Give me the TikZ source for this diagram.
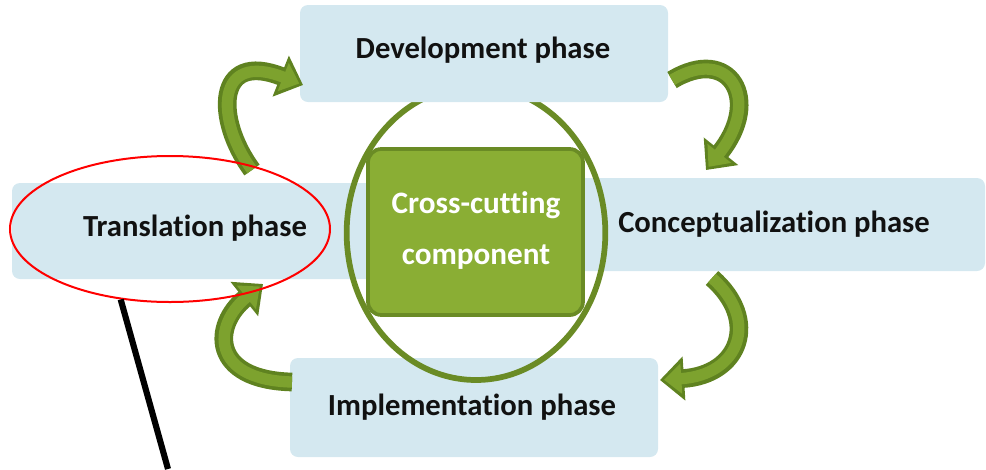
\documentclass[tikz,border=0pt]{standalone}
\usepackage{fontspec}
\setmainfont[Ligatures={NoCommon}]{Carlito}
\usetikzlibrary{arrows.meta,shapes.geometric}
\definecolor{boxblue}{HTML}{D4E8F0}
\definecolor{gdark}{HTML}{5F8220}
\definecolor{gmid}{HTML}{7DA22E}
\definecolor{gbox}{HTML}{8AAE34}
\definecolor{gboxdark}{HTML}{6A8B25}
\definecolor{txt}{HTML}{111111}
\begin{document}
\begin{tikzpicture}[x=0.75pt,y=-0.75pt,
  phasebox/.style={fill=boxblue, rounded corners=6pt, inner sep=0pt, draw=none},
  phasetext/.style={font=\bfseries\fontsize{23}{27}\selectfont, text=txt, inner sep=0pt},
  coretext/.style={font=\bfseries\fontsize{23.4}{27}\selectfont, text=white, inner sep=0pt},
  cyclearrow/.style={draw=gdark, line width=14pt,
     -{Triangle[length=18pt,width=32pt]},
     postaction={draw=gmid, line width=8.5pt, shorten >=3pt,
     -{Triangle[length=13pt,width=22pt]}}}]
\useasboundingbox (0,0) rectangle (986,469);
% phase boxes below the ring
\node[phasebox, minimum width=343.5pt, minimum height=72pt] (transbox) at (241,231) {};
\node[phasebox, minimum width=377.25pt, minimum height=69.75pt] (concbox) at (733.5,224.5) {};
\node[phasebox, minimum width=276pt, minimum height=74.25pt] (implbox) at (474,407.5) {};
% central ring
\node[ellipse, draw=gboxdark, line width=4.3pt, minimum width=194pt, minimum height=220.5pt, inner sep=0pt] (ring) at (476,233) {};
% development box covers the top of the ring
\node[phasebox, minimum width=276pt, minimum height=72.75pt] (devbox) at (484,53.5) {};
% core
\node[draw=gboxdark, fill=gbox, line width=2.8pt, rounded corners=10pt,
      minimum width=161.25pt, minimum height=124.5pt] (core) at (475.5,232) {};
\node[coretext] (core1) at (476,205) {Cross-cutting};
\node[coretext] (core2) at (476,257) {component};
% phase texts
\node[phasetext] (devtxt) at (483,50) {Development phase};
\node[phasetext] (transtxt) at (195,228) {Translation phase};
\node[phasetext] (conctxt) at (774,224) {Conceptualization phase};
\node[phasetext] (impltxt) at (472,407) {Implementation phase};
% cycle arrows
\coordinate (a1s) at (252,170);
\coordinate (a1e) at (303,85);
\coordinate (a2s) at (672,80);
\coordinate (a2e) at (706,170);
\coordinate (a3s) at (712,278);
\coordinate (a3e) at (660,380);
\coordinate (a4s) at (292,382);
\coordinate (a4e) at (263,284);
\draw[cyclearrow] (a1s) .. controls (215,120) and (215,50) .. (a1e);
\draw[cyclearrow] (a2s) .. controls (730,45) and (762,100) .. (a2e);
\draw[cyclearrow] (a3s) .. controls (760,320) and (740,375) .. (a3e);
\draw[cyclearrow] (a4s) .. controls (210,380) and (212,325) .. (a4e);
% highlight
\node[ellipse, draw=red, line width=1.5pt, minimum width=240pt, minimum height=109.5pt, inner sep=0pt] (hl) at (170,229) {};
\coordinate (pointer) at (168,469);
\draw[black, line width=4.6pt] (hl.235) -- (pointer);
\end{tikzpicture}
\end{document}
